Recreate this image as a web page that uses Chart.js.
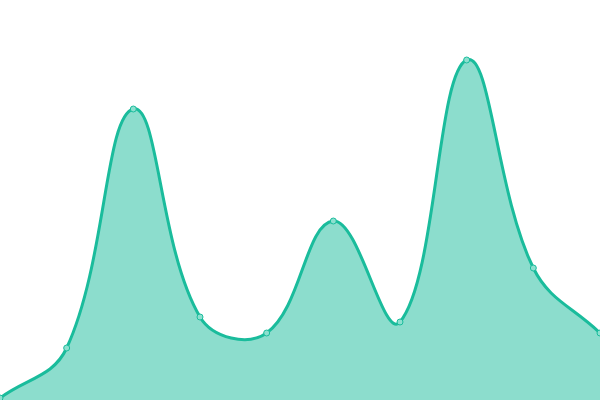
<!DOCTYPE html>
<html>
<head>
<meta charset="utf-8">
<script src="https://cdn.jsdelivr.net/npm/chart.js@4/dist/chart.umd.min.js"></script>
<style>
  html, body { margin: 0; padding: 0; background: #fff; }
  #wrap { width: 600px; height: 400px; }
</style>
</head>
<body>
<div id="wrap"><canvas id="area-chart"></canvas></div>
<script>
  const labels = ['1', '2', '3', '4', '5', '6', '7', '8', '9', '10'];
  const values = [2, 52, 291, 83, 67, 179, 78, 340, 132, 67];

  const TEAL = '#1abc9c';

  new Chart(document.getElementById('area-chart'), {
    type: 'line',
    data: {
      labels,
      datasets: [{
        data: values,
        borderColor: TEAL,
        borderWidth: 3,
        tension: 0.4,
        fill: true,
        backgroundColor: 'rgba(26,188,156,0.5)',
        pointRadius: 3,
        pointBorderWidth: 1,
        pointBorderColor: TEAL,
        pointBackgroundColor: 'rgba(140,224,207,1)'
      }]
    },
    options: {
      responsive: true,
      maintainAspectRatio: false,
      animation: false,
      // no room kept for the end points, the curve runs edge to edge
      layout: { padding: 0, autoPadding: false },
      plugins: { legend: { display: false }, tooltip: { enabled: false } },
      scales: {
        x: { display: false },
        y: { display: false, min: 0, max: 400 }
      }
    }
  });
</script>
</body>
</html>
